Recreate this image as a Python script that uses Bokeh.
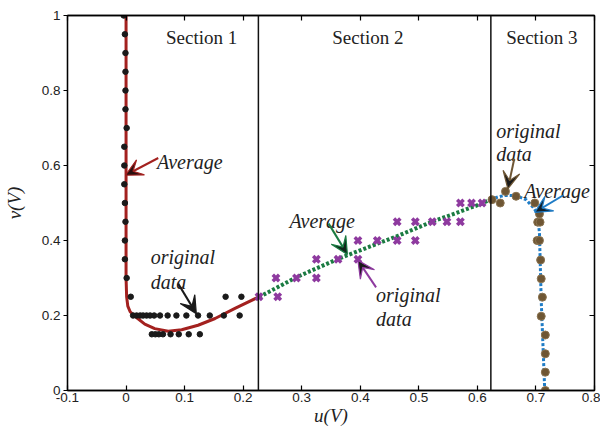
import numpy as np
from bokeh.plotting import figure
from bokeh.models import (Range1d, LinearAxis, FixedTicker, CustomJSTickFormatter,
                          Label, Arrow, VeeHead, Span)
from bokeh.embed import file_html
from bokeh.resources import INLINE

# ---------------- data ----------------
# Section 1: original data (black dots)
s1_u = [-0.004, -0.002, -0.001, -0.001, -0.001, -0.001, 0.001, -0.003, -0.003, -0.003,
        -0.002, -0.001, -0.002, -0.002, 0.001, 0.008,
        0.012, 0.018, 0.024, 0.029, 0.035, 0.041, 0.048, 0.058, 0.071, 0.086, 0.103,
        0.123, 0.143, 0.167, 0.194,
        0.170, 0.197,
        0.044, 0.050, 0.056, 0.063, 0.076, 0.090, 0.107, 0.126]
s1_v = [1.0, 0.95, 0.90, 0.85, 0.80, 0.75, 0.70, 0.65, 0.60, 0.55,
        0.50, 0.45, 0.40, 0.35, 0.30, 0.25,
        0.20, 0.20, 0.20, 0.20, 0.20, 0.20, 0.20, 0.20, 0.20, 0.20, 0.20,
        0.20, 0.20, 0.20, 0.20,
        0.25, 0.25,
        0.15, 0.15, 0.15, 0.15, 0.15, 0.15, 0.15, 0.15]
# Section 1: average (red curve)
a1_u = [0.0, 0.0, 0.0, 0.001, 0.003, 0.007, 0.015, 0.032, 0.049, 0.072, 0.095,
        0.123, 0.152, 0.186, 0.226]
a1_v = [1.0, 0.5, 0.30, 0.25, 0.225, 0.21, 0.198, 0.177, 0.165, 0.158, 0.162,
        0.174, 0.192, 0.219, 0.249]

# Section 2: original data (purple crosses)
s2_u = [0.227, 0.256, 0.259, 0.291, 0.325, 0.325, 0.362, 0.396, 0.396, 0.429,
        0.463, 0.463, 0.494, 0.494, 0.523, 0.548, 0.571, 0.571, 0.590, 0.608]
s2_v = [0.25, 0.30, 0.25, 0.30, 0.35, 0.30, 0.35, 0.40, 0.35, 0.40,
        0.45, 0.40, 0.45, 0.40, 0.45, 0.45, 0.45, 0.50, 0.50, 0.50]
# Section 2: average (green dotted)
a2_u = [0.227, 0.291, 0.362, 0.465, 0.521, 0.607, 0.621]
a2_v = [0.249, 0.302, 0.351, 0.413, 0.449, 0.498, 0.509]

# Section 3: original data (brown dots)
s3_u = [0.625, 0.639, 0.648, 0.666, 0.698, 0.706, 0.703, 0.707, 0.702, 0.706,
        0.708, 0.709, 0.711, 0.709, 0.716, 0.716, 0.716, 0.716]
s3_v = [0.509, 0.500, 0.531, 0.518, 0.500, 0.471, 0.449, 0.449, 0.400, 0.400,
        0.348, 0.298, 0.249, 0.198, 0.148, 0.098, 0.049, 0.0]
# Section 3: average (blue dotted)
a3_u = [0.622, 0.635, 0.646, 0.666, 0.683, 0.695, 0.703, 0.706, 0.709, 0.712, 0.715]
a3_v = [0.509, 0.516, 0.520, 0.520, 0.509, 0.489, 0.471, 0.418, 0.24, 0.12, 0.0]

# section boundaries
bounds = [0.226, 0.623]

x_ticks = [-0.1, 0, 0.1, 0.2, 0.3, 0.4, 0.5, 0.6, 0.7, 0.8]
y_ticks = [0, 0.2, 0.4, 0.6, 0.8, 1]

RED = "#a3211f"
PURPLE = "#8e3a9f"
GREEN = "#1b7b42"
BROWN = "#6e5634"
BLUE = "#1f7cc6"
SERIF = "Liberation Serif"
SANS = "Liberation Sans"

p = figure(width=600, height=429, output_backend="svg", toolbar_location=None,
           x_range=Range1d(-0.1, 0.8), y_range=Range1d(0, 1),
           min_border_left=66, min_border_top=15, min_border_right=6, min_border_bottom=39,
           x_axis_type=None, y_axis_type=None)
p.xgrid.visible = False
p.ygrid.visible = False
p.outline_line_color = "black"
p.outline_line_width = 1.3
p.background_fill_color = "white"
p.border_fill_color = "white"

fmt = CustomJSTickFormatter(code="return String(Math.round(tick*10)/10)")
blank = CustomJSTickFormatter(code="return ''")

def mk_axis(ticks, labels, tin, tout, title=None, title_standoff=5, label_standoff=3):
    ax = LinearAxis(ticker=FixedTicker(ticks=ticks), formatter=fmt if labels else blank)
    ax.major_tick_in = tin
    ax.major_tick_out = tout
    ax.minor_tick_line_color = None
    ax.axis_line_color = "black"
    ax.axis_line_width = 1.3
    ax.major_tick_line_width = 1.2
    ax.major_label_text_font = SANS
    ax.major_label_text_font_size = "13.5px"
    ax.major_label_text_color = "#222222"
    ax.major_label_standoff = label_standoff if labels else 0
    if title:
        ax.axis_label = title
        ax.axis_label_text_font = SERIF
        ax.axis_label_text_font_style = "italic"
        ax.axis_label_text_font_size = "19px"
        ax.axis_label_text_color = "#222222"
        ax.axis_label_standoff = title_standoff
    return ax

p.add_layout(mk_axis(x_ticks, True, 5, 0, "u(V)", 0, 2), "below")
p.add_layout(mk_axis(y_ticks, True, 0, 4, "v(V)", 14), "left")
p.add_layout(mk_axis(x_ticks, False, 5, 0), "above")
p.add_layout(mk_axis(y_ticks, False, 5, 0), "right")

for b in bounds:
    p.add_layout(Span(location=b, dimension="height", line_color="#111111", line_width=1.5))

# average lines
p.line(a1_u, a1_v, line_color=RED, line_width=3)
p.line(a2_u, a2_v, line_color=GREEN, line_width=4, line_dash="3 2")
p.line(a3_u, a3_v, line_color=BLUE, line_width=3, line_dash="3 2")

# original data
p.scatter(s1_u, s1_v, marker="circle", size=5.5, fill_color="#1a1a1a", line_color="#1a1a1a")
p.scatter(s2_u, s2_v, marker="x", size=9, line_color=PURPLE, line_width=3.5)
p.scatter(s3_u, s3_v, marker="circle", size=8, fill_color=BROWN, line_color="#8a7350",
          line_width=1)

def txt(x, y, s, style="italic", align="left", size="20px", color="#222222"):
    p.add_layout(Label(x=x, y=y, text=s, text_font=SERIF, text_font_style=style,
                       text_font_size=size, text_color=color, text_align=align,
                       text_baseline="alphabetic"))

# section titles
txt(0.129, 0.942, "Section 1", style="normal", align="center", size="19px")
txt(0.413, 0.942, "Section 2", style="normal", align="center", size="19px")
txt(0.710, 0.942, "Section 3", style="normal", align="center", size="19px")

# annotations
txt(0.053, 0.609, "Average")
txt(0.042, 0.355, "original")
txt(0.042, 0.289, "data")
txt(0.279, 0.453, "Average")
txt(0.427, 0.255, "original")
txt(0.427, 0.191, "data")
txt(0.632, 0.693, "original")
txt(0.632, 0.631, "data")
txt(0.680, 0.531, "Average")

def arrow(x0, y0, x1, y1, color, head_fill):
    p.add_layout(Arrow(x_start=x0, y_start=y0, x_end=x1, y_end=y1,
                       line_color=color, line_width=2,
                       end=VeeHead(size=17, fill_color=head_fill, line_color=color,
                                   line_width=1.2)))

arrow(0.055, 0.620, -0.001, 0.574, RED, "#2a1010")
arrow(0.089, 0.285, 0.120, 0.205, "#1a1a1a", "#1a1a1a")
arrow(0.346, 0.445, 0.378, 0.363, GREEN, "#10251a")
arrow(0.427, 0.275, 0.396, 0.347, PURPLE, "#1a1a1a")
arrow(0.663, 0.618, 0.652, 0.538, BROWN, "#1a1a1a")
arrow(0.746, 0.520, 0.698, 0.475, BLUE, "#10202c")

open("out.html", "w").write(file_html(p, INLINE))
